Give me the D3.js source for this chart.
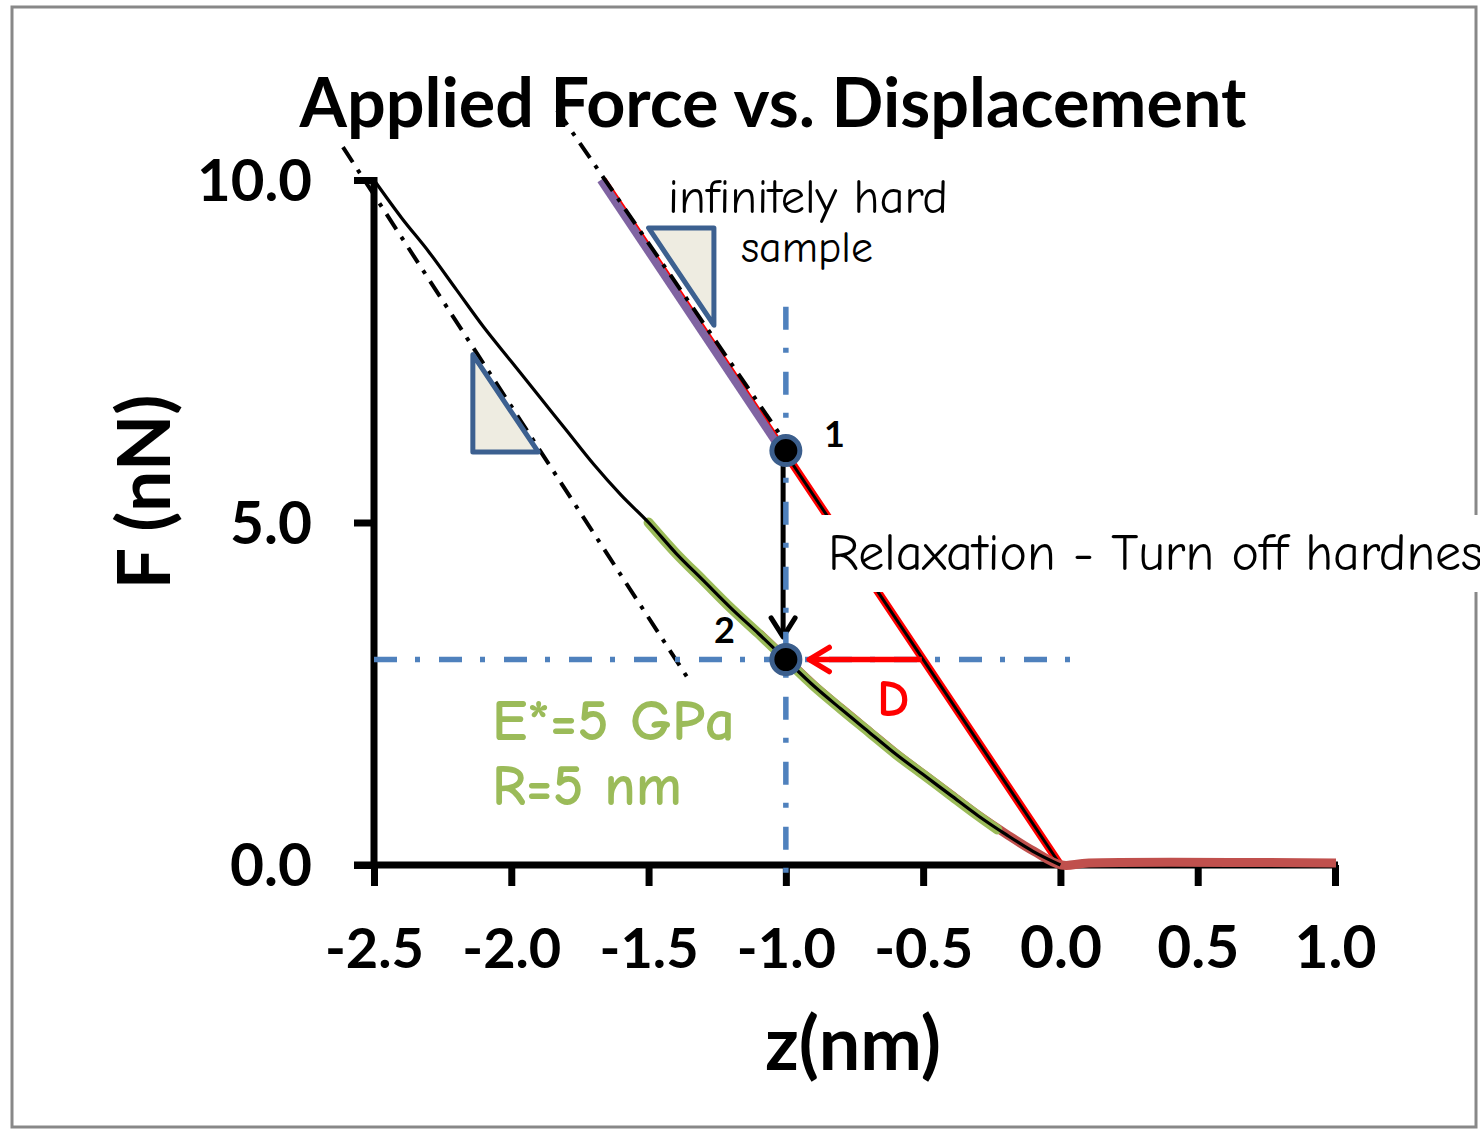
<!DOCTYPE html>
<html>
<head>
<meta charset="utf-8">
<script src="https://cdn.jsdelivr.net/npm/d3@7"></script>
<style>
  html, body { margin: 0; padding: 0; background: #fff; }
  svg { display: block; }
</style>
</head>
<body>
<svg id="chart" width="1480" height="1130"></svg>
<script>
// ---- data ----
const xTicks = [-2.5, -2.0, -1.5, -1.0, -0.5, 0.0, 0.5, 1.0];
const yTicks = [0, 5, 10];

// infinitely hard sample: straight contact line
const hardZ = [-1.6667, -1.0, 0.0];
const hardF = [10.0, 6.0, 0.0];

// measured force curve on the elastic sample
const softZ = [-2.5, -2.4, -2.3, -2.2, -2.1, -2.0, -1.9, -1.8, -1.7, -1.6, -1.5, -1.4, -1.3,
               -1.2, -1.1, -1.0, -0.9, -0.8, -0.7, -0.6, -0.5, -0.4, -0.3, -0.2, -0.1, 0.0];
const softF = [10.0, 9.45, 8.95, 8.4, 7.85, 7.35, 6.85, 6.35, 5.85, 5.4, 5.0, 4.55, 4.15,
               3.75, 3.38, 3.0, 2.62, 2.28, 1.95, 1.62, 1.32, 1.02, 0.72, 0.45, 0.2, 0.0];

// Hertz fit (E*=5 GPa, R=5 nm)
const fitZ = [-1.5, -1.4, -1.3, -1.2, -1.1, -1.0, -0.9, -0.8, -0.7, -0.6, -0.5, -0.4, -0.3, -0.23];
const fitF = [5.0, 4.55, 4.15, 3.75, 3.38, 3.0, 2.62, 2.28, 1.95, 1.62, 1.32, 1.02, 0.72, 0.52];

// full approach curve incl. non-contact part
const approachZ = [-1.1, -1.0, -0.9, -0.8, -0.7, -0.6, -0.5, -0.4, -0.3, -0.2, -0.1, 0.0, 0.1, 1.0];
const approachF = [3.38, 3.0, 2.62, 2.28, 1.95, 1.62, 1.32, 1.02, 0.72, 0.45, 0.2, 0.0, 0.03, 0.03];

// tangent lines (dash-dot)
const tangentHardZ = [-1.833, -1.007];
const tangentHardF = [11.02, 6.2];
const tangentSoftZ = [-2.613, -1.359];
const tangentSoftF = [10.48, 2.74];

// operating points
const pointZ = [-1.0, -1.0];
const pointF = [6.05, 3.0];
const pointLabels = ["1", "2"];

// ---- layout ----
const svg = d3.select("#chart");
const x = d3.scaleLinear().domain([-2.5, 1.0]).range([374, 1335]);
const y = d3.scaleLinear().domain([0, 10]).range([865, 180]);

const pts = (zs, fs) => zs.map((z, i) => [z, fs[i]]);
const line = d3.line().x(d => x(d[0])).y(d => y(d[1]));
const curve = d3.line().x(d => x(d[0])).y(d => y(d[1])).curve(d3.curveCatmullRom);

const BOLD = "Lato, 'Open Sans', 'Liberation Sans', sans-serif";
const HAND = "'Comic Sans MS', 'Comic Neue', 'Noto Sans', 'DejaVu Sans', sans-serif";

// fit a text element to a given width by adjusting its font-size
function fit(sel, width) {
  const node = sel.node();
  const fs = parseFloat(sel.attr("font-size"));
  const len = node.getComputedTextLength();
  if (len > 0) sel.attr("font-size", fs * width / len);
  return sel;
}

// frame
svg.append("rect").attr("x", 12).attr("y", 7).attr("width", 1464).attr("height", 1120)
  .attr("fill", "#fff").attr("stroke", "#888").attr("stroke-width", 3);

// title
fit(svg.append("text").attr("x", 773).attr("y", 127).attr("text-anchor", "middle")
  .attr("font-family", BOLD).attr("font-weight", 700).attr("font-size", 56)
  .attr("fill", "#000").text("Applied Force vs. Displacement"), 947);

// axes (drawn first so the curves sit on top)
const xAxis = svg.append("g").attr("transform", "translate(0,865)")
  .call(d3.axisBottom(x).tickValues(xTicks).tickSize(21).tickFormat(d3.format(".1f")));
xAxis.select(".domain").attr("stroke", "#000").attr("stroke-width", 7).attr("d", `M${x(-2.5) - 20},0H${x(1.0) + 3}`);
xAxis.selectAll(".tick line").attr("stroke", "#000").attr("stroke-width", 7);
xAxis.selectAll(".tick text").attr("font-family", BOLD).attr("font-weight", 700).attr("font-size", 50)
  .attr("fill", "#000").attr("dy", 0).attr("y", 103).text(d => d3.format(".1f")(d).replace("−", "-"))
  .each(function (d) { fit(d3.select(this), d < 0 ? 99 : 82); });

const yAxis = svg.append("g").attr("transform", "translate(374,0)")
  .call(d3.axisLeft(y).tickValues(yTicks).tickSize(20).tickFormat(d3.format(".1f")));
yAxis.select(".domain").attr("stroke", "#000").attr("stroke-width", 7).attr("d", `M0,${y(10) - 3}V${y(0) + 3}`);
yAxis.selectAll(".tick line").attr("stroke", "#000").attr("stroke-width", 7);
yAxis.selectAll(".tick text").attr("font-family", BOLD).attr("font-weight", 700).attr("font-size", 54)
  .attr("fill", "#000").attr("x", -62).attr("dy", "0.35em")
  .each(function (d) { fit(d3.select(this), d === 10 ? 115 : 82); });

const plot = svg.append("g");

// hard sample: red line with black centre line
plot.append("path").attr("d", line(pts(hardZ, hardF))).attr("fill", "none")
  .attr("stroke", "#FF0000").attr("stroke-width", 8);
plot.append("path").attr("d", line(pts(hardZ.slice(0, 2), hardF.slice(0, 2))))
  .attr("fill", "none").attr("stroke", "#8064A2").attr("stroke-width", 8)
  .attr("transform", "translate(-2,0)");
plot.append("path").attr("d", line(pts(hardZ.slice(1), hardF.slice(1)))).attr("fill", "none")
  .attr("stroke", "#000").attr("stroke-width", 3);

// approach curve (brown), Hertz fit (green), measured curve (black)
plot.append("path").attr("d", curve(pts(approachZ, approachF))).attr("fill", "none")
  .attr("stroke", "#C0504D").attr("stroke-width", 9).attr("transform", "translate(1,0)");
plot.append("path").attr("d", curve(pts(fitZ, fitF))).attr("fill", "none")
  .attr("stroke", "#9BBB59").attr("stroke-width", 10).attr("stroke-linecap", "round");
plot.append("path").attr("d", curve(pts(softZ, softF))).attr("fill", "none")
  .attr("stroke", "#000").attr("stroke-width", 3.2);

// tangent lines
[[tangentHardZ, tangentHardF], [tangentSoftZ, tangentSoftF]].forEach(([zs, fs]) => {
  plot.append("path").attr("d", line(pts(zs, fs))).attr("fill", "none")
    .attr("stroke", "#000").attr("stroke-width", 4).attr("stroke-dasharray", "18,9,4,9");
});

// slope triangles
const triFill = "#EEECE1", triStroke = "#3C6090";
svg.append("path")
  .attr("d", `M${x(-1.5)},${y(9.3)} L${x(-1.262)},${y(9.3)} L${x(-1.262)},${y(7.88)} Z`)
  .attr("fill", triFill).attr("stroke", triStroke).attr("stroke-width", 5).attr("stroke-linejoin", "round");
svg.append("path")
  .attr("d", `M${x(-2.14)},${y(7.45)} L${x(-2.14)},${y(6.03)} L${x(-1.902)},${y(6.03)} Z`)
  .attr("fill", triFill).attr("stroke", triStroke).attr("stroke-width", 5).attr("stroke-linejoin", "round");

// relaxation arrow (black, vertical)
const ax = x(-1.01);
svg.append("line").attr("x1", ax).attr("x2", ax).attr("y1", y(5.85)).attr("y2", y(3.33))
  .attr("stroke", "#000").attr("stroke-width", 5);
svg.append("path")
  .attr("d", `M${ax - 12},${y(3.33) - 19} L${ax},${y(3.33)} L${ax + 12},${y(3.33) - 19}`)
  .attr("fill", "none").attr("stroke", "#000").attr("stroke-width", 5)
  .attr("stroke-linecap", "round").attr("stroke-linejoin", "round");

// guide lines (blue dash-dot)
const blue = "#4F81BD";
svg.append("line").attr("x1", x(-1.0)).attr("x2", x(-1.0)).attr("y1", y(8.15)).attr("y2", y(-0.3))
  .attr("stroke", blue).attr("stroke-width", 5.5).attr("stroke-dasharray", "23,18,5,19");
svg.append("line").attr("x1", x(-2.5)).attr("x2", x(0.075)).attr("y1", y(3.0)).attr("y2", y(3.0))
  .attr("stroke", blue).attr("stroke-width", 5.5).attr("stroke-dasharray", "23,18,5,19");

// D arrow (red, horizontal)
const tipX = x(-0.915), ay = y(3.0);
svg.append("line").attr("x1", x(-0.505)).attr("x2", tipX).attr("y1", ay).attr("y2", ay)
  .attr("stroke", "#FF0000").attr("stroke-width", 5.5);
svg.append("path")
  .attr("d", `M${tipX + 20},${ay - 12} L${tipX},${ay} L${tipX + 20},${ay + 12}`)
  .attr("fill", "none").attr("stroke", "#FF0000").attr("stroke-width", 5.5)
  .attr("stroke-linecap", "round").attr("stroke-linejoin", "round");

// operating points
pointZ.forEach((z, i) => {
  svg.append("circle").attr("cx", x(z)).attr("cy", y(pointF[i])).attr("r", 14)
    .attr("fill", "#000").attr("stroke", "#3B5E8C").attr("stroke-width", 5);
});
svg.append("text").attr("x", 824).attr("y", 447).attr("font-family", BOLD).attr("font-weight", 700)
  .attr("font-size", 36).text(pointLabels[0]);
svg.append("text").attr("x", 714).attr("y", 643).attr("font-family", BOLD).attr("font-weight", 700)
  .attr("font-size", 36).text(pointLabels[1]);

// axis titles
fit(svg.append("text").attr("x", 853).attr("y", 1070).attr("text-anchor", "middle")
  .attr("font-family", BOLD).attr("font-weight", 700).attr("font-size", 62).text("z(nm)"), 176);
fit(svg.append("text").attr("transform", "translate(170,492) rotate(-90)").attr("text-anchor", "middle")
  .attr("font-family", BOLD).attr("font-weight", 700).attr("font-size", 56).text("F (nN)"), 195);

// annotations
fit(svg.append("text").attr("x", 668).attr("y", 213).attr("font-family", HAND).attr("font-size", 40)
  .attr("fill", "#000").text("infinitely hard"), 280);
fit(svg.append("text").attr("x", 741).attr("y", 262).attr("font-family", HAND).attr("font-size", 40)
  .attr("fill", "#000").text("sample"), 132);

svg.append("rect").attr("x", 822).attr("y", 515).attr("width", 700).attr("height", 77).attr("fill", "#fff");
const relax = svg.append("text").attr("x", 828).attr("y", 570).attr("font-family", HAND).attr("font-size", 44)
  .attr("fill", "#000").text("Relaxation - Turn off hardnes");
fit(relax, 655);
relax.text("Relaxation - Turn off hardness");

const green = "#9BBB59";
fit(svg.append("text").attr("x", 492).attr("y", 740).attr("font-family", HAND).attr("font-weight", 700)
  .attr("font-size", 48).attr("fill", green).text("E*=5 GPa"), 243);
fit(svg.append("text").attr("x", 492).attr("y", 805).attr("font-family", HAND).attr("font-weight", 700)
  .attr("font-size", 48).attr("fill", green).text("R=5 nm"), 190);
svg.append("text").attr("x", 877).attr("y", 716).attr("font-family", HAND).attr("font-weight", 700)
  .attr("font-size", 52).attr("fill", "#FF0000").text("D");
</script>
</body>
</html>
